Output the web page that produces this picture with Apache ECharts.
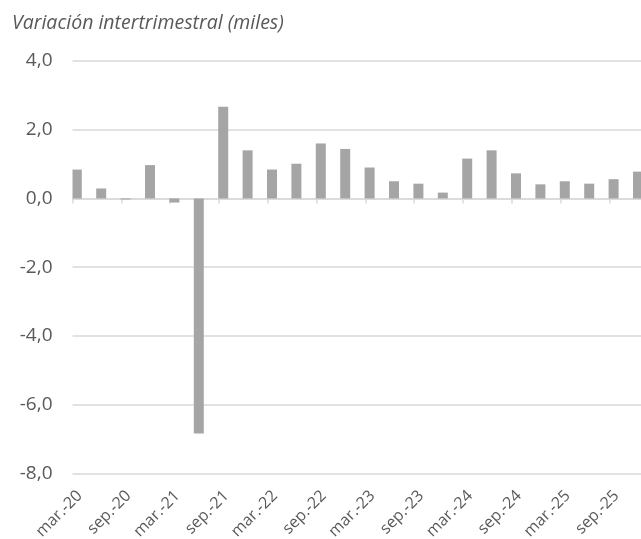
<!DOCTYPE html>
<html><head><meta charset="utf-8">
<script src="https://cdn.jsdelivr.net/npm/echarts@6/dist/echarts.min.js"></script>
<style>html,body{margin:0;padding:0;background:#fff}#c{width:641px;height:539px}</style>
</head><body><div id="c"></div>
<script>
const categories = ["mar.-20","jun.-20","sep.-20","dic.-20","mar.-21","jun.-21","sep.-21","dic.-21","mar.-22","jun.-22","sep.-22","dic.-22","mar.-23","jun.-23","sep.-23","dic.-23","mar.-24","jun.-24","sep.-24","dic.-24","mar.-25","jun.-25","sep.-25","dic.-25"];
const variacion = [0.84,0.29,-0.03,0.97,-0.12,-6.84,2.67,1.40,0.84,1.01,1.60,1.44,0.90,0.50,0.43,0.17,1.16,1.40,0.73,0.41,0.50,0.43,0.56,0.78];
const yTicks = {min:-8, max:4, interval:2};
const titleText = "Variación intertrimestral (miles)";

const chart = echarts.init(document.getElementById('c'));
const font = "'Open Sans', sans-serif";
chart.setOption({
  animation:false,
  title:{text:titleText,left:7,top:8,textStyle:{fontFamily:font,fontStyle:'italic',fontWeight:'normal',fontSize:19.5,color:'#595959'}},
  grid:{left:72.5,width:585.6,top:61,height:412.3,containLabel:false,outerBoundsMode:'none'},
  xAxis:[
    {type:'category',data:categories,boundaryGap:true,
     axisLine:{onZero:true,lineStyle:{color:'#d9d9d9',width:1.5}},
     axisTick:{show:true,interval:1,length:5,lineStyle:{color:'#d9d9d9',width:1.5}},
     axisLabel:{show:false},splitLine:{show:false}},
    {type:'category',data:categories,boundaryGap:true,position:'bottom',
     axisLine:{show:false},axisTick:{show:false},splitLine:{show:false},
     axisLabel:{interval:1,rotate:45,fontFamily:font,fontSize:16,color:'#595959',margin:15,padding:[0,7,0,0]}}
  ],
  yAxis:{type:'value',min:yTicks.min,max:yTicks.max,interval:yTicks.interval,
    axisLine:{show:false},axisTick:{show:false},
    splitLine:{lineStyle:{color:'#d9d9d9',width:1.5}},
    axisLabel:{fontFamily:font,fontSize:19,color:'#595959',margin:20,
      formatter:v=>v.toFixed(1).replace('.',',')}},
  series:[
    {type:'bar',xAxisIndex:0,data:variacion,barWidth:10,barGap:'58%',itemStyle:{color:'#a5a5a5'}},
    {type:'bar',xAxisIndex:0,data:variacion.map(()=>null),barWidth:10,itemStyle:{color:'#a5a5a5'}}
  ]
});
</script></body></html>
